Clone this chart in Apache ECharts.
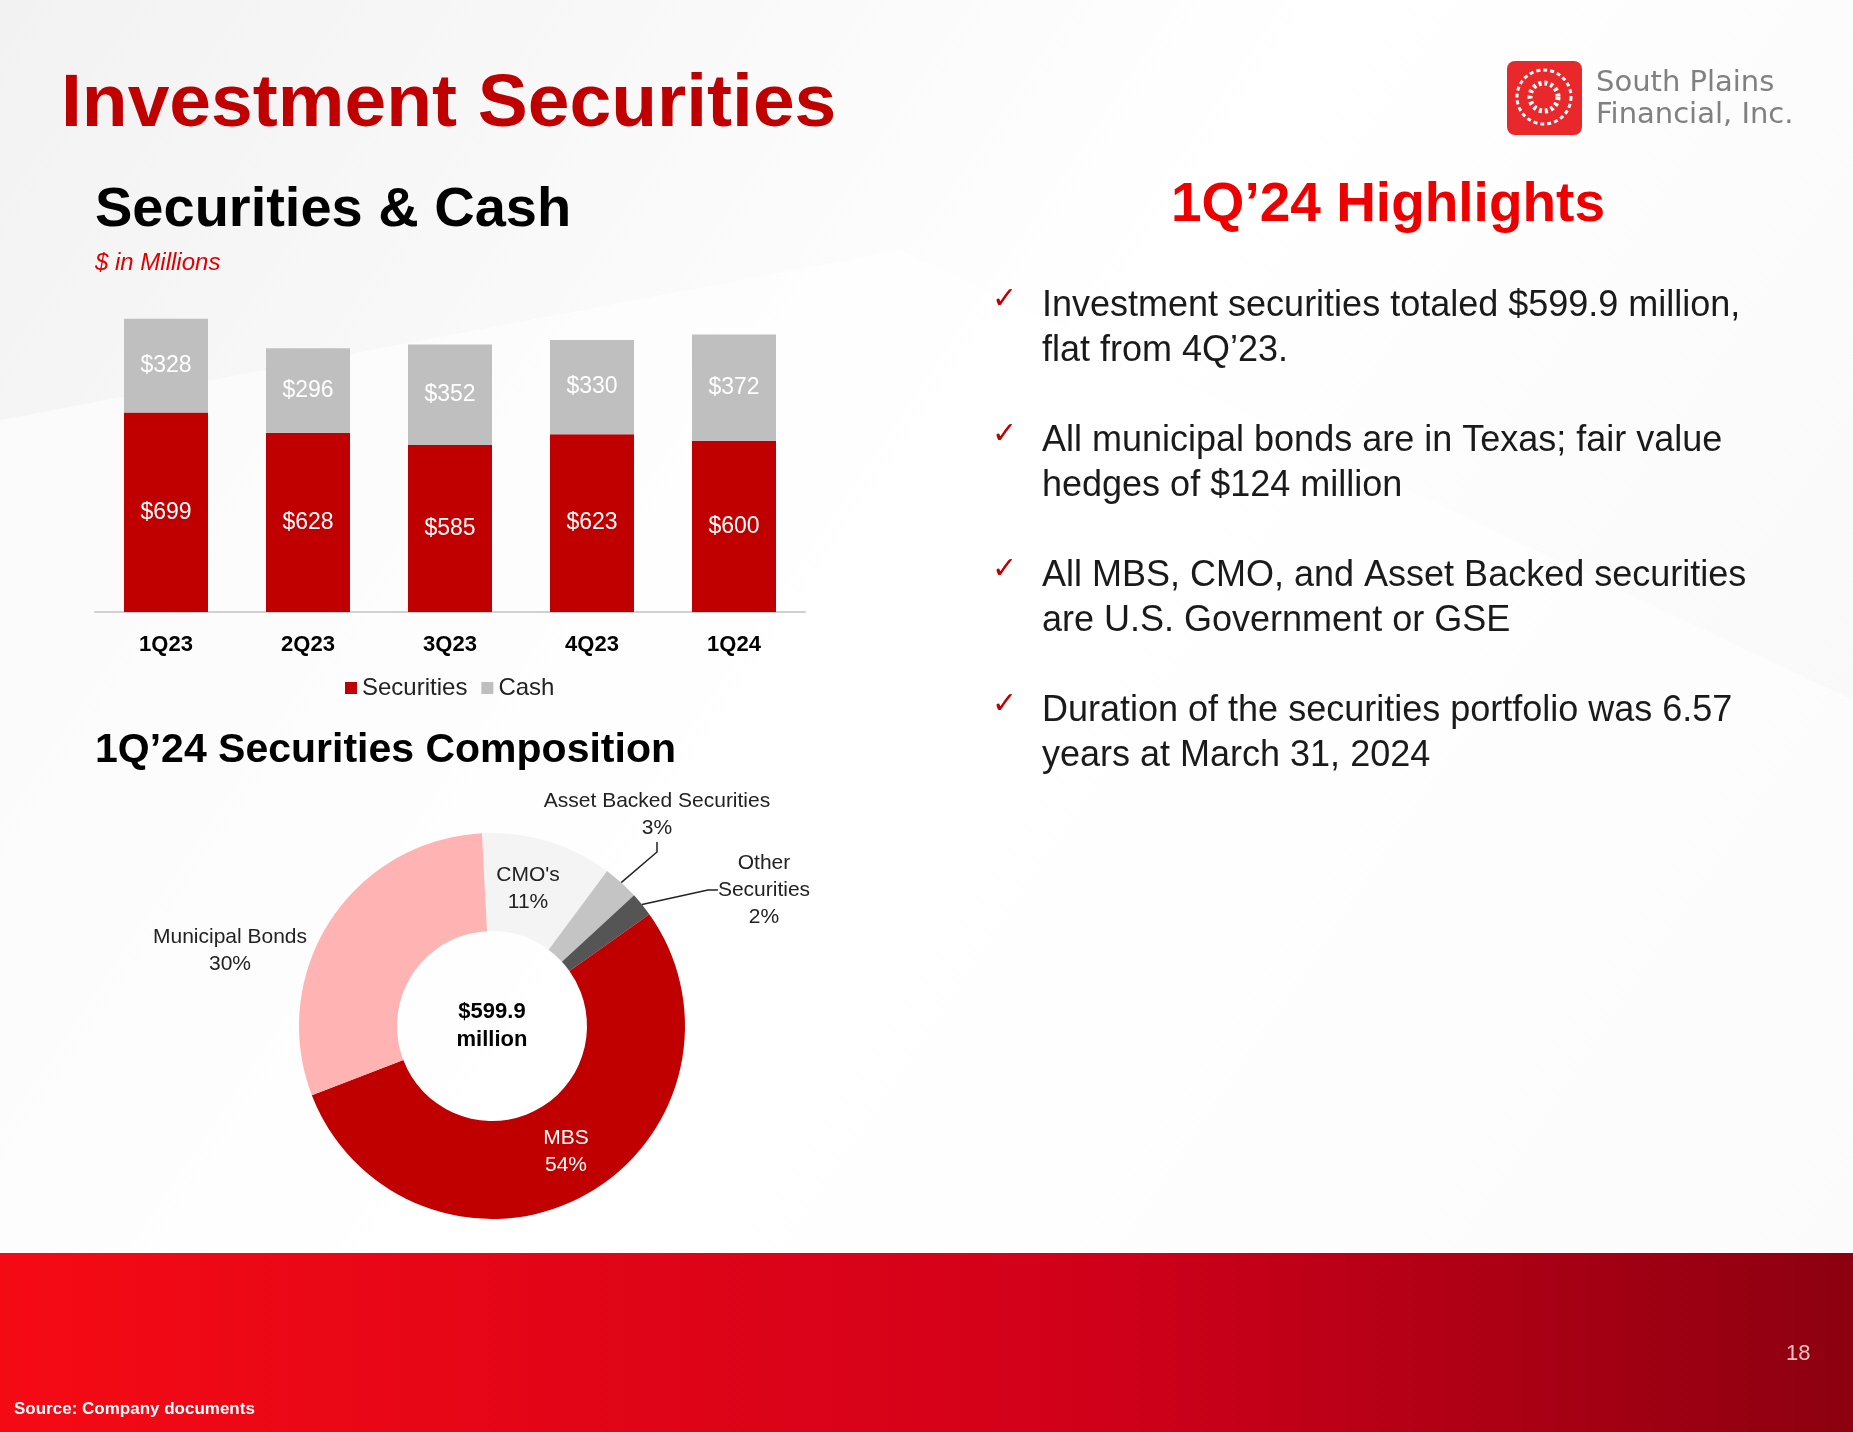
<!DOCTYPE html>
<html>
<head>
<meta charset="utf-8">
<script src="https://cdn.jsdelivr.net/npm/echarts@6/dist/echarts.min.js"></script>
<style>
html,body{margin:0;padding:0;width:1853px;height:1432px;overflow:hidden}
#chart{width:1853px;height:1432px}
</style>
</head>
<body>
<div id="chart"></div>
<script>
var quarters = ['1Q23', '2Q23', '3Q23', '4Q23', '1Q24']
var securities = [699, 628, 585, 623, 600]
var cash = [328, 296, 352, 330, 372]
var compNames = ["CMO's", 'Asset Backed Securities', 'Other\nSecurities', 'MBS', 'Municipal Bonds']
var compValues = [11, 3, 2, 54, 30]
var compColors = ['#f4f4f4', '#c4c4c4', '#555555', '#c00000', '#ffb3b3']
var compLabelPos = [[528, 889], [657, 815], [764, 890], [566, 1152], [230, 951]]
var bullets = [
    ['Investment securities totaled $599.9 million,', 'flat from 4Q\u201923.'],
    ['All municipal bonds are in Texas; fair value', 'hedges of $124 million'],
    ['All MBS, CMO, and Asset Backed securities', 'are U.S. Government or GSE'],
    ['Duration of the securities portfolio was 6.57', 'years at March 31, 2024']
]

var font = 'Liberation Sans, Arial, sans-serif'
var myChart = echarts.init(document.getElementById('chart'))

var graphics = [
    // background
    {type:'rect', z:-10, shape:{x:0,y:0,width:1853,height:1253},
        style:{fill:new echarts.graphic.LinearGradient(0,0,1,1,[{offset:0,color:'#f2f2f2'},{offset:0.5,color:'#ffffff'},{offset:1,color:'#f7f7f7'}])}},
    {type:'polygon', z:-9, shape:{points:[[0,420],[900,250],[1853,700],[1853,1253],[0,1253]]}, style:{fill:'rgba(255,255,255,0.55)'}},
    // bottom band
    {type:'rect', shape:{x:0,y:1253,width:1853,height:179},
        style:{fill:new echarts.graphic.LinearGradient(0,0,1,0,[{offset:0,color:'#f50a14'},{offset:0.6,color:'#d0001a'},{offset:1,color:'#8c0010'}])}},
    {type:'text', left:14, top:1401, style:{text:'Source: Company documents', fill:'#fff', font:'bold 17px '+font}},
    {type:'text', left:1786, top:1343, style:{text:'18', fill:'#f0c0c0', font:'22px '+font}},
    // titles
    {type:'text', left:61, top:68, style:{text:'Investment Securities', fill:'#c00000', font:'bold 75px '+font}},
    {type:'text', left:95, top:183, style:{text:'Securities & Cash', fill:'#000', font:'bold 56px '+font}},
    {type:'text', left:95, top:251, style:{text:'$ in Millions', fill:'#e00000', font:'italic 24px '+font}},
    {type:'text', left:95, top:730, style:{text:'1Q\u201924 Securities Composition', fill:'#000', font:'bold 41px '+font}},
    {type:'text', x:1388, y:206, style:{text:'1Q\u201924 Highlights', fill:'#ee0000', font:'bold 55px '+font, align:'center', verticalAlign:'middle'}},
    {type:'text', x:492, y:1026, z:10, style:{text:'$599.9\nmillion', fill:'#000', font:'bold 22px '+font, align:'center', verticalAlign:'middle', lineHeight:28}},
    // logo
    {type:'rect', shape:{x:1507,y:61,width:75,height:74,r:8}, style:{fill:'#e8282a'}},
    {type:'circle', shape:{cx:1544,cy:97,r:27}, style:{fill:'none', stroke:'#fff', lineWidth:3, lineDash:[4,3]}},
    {type:'circle', shape:{cx:1544,cy:97,r:14}, style:{fill:'none', stroke:'#fff', lineWidth:5, lineDash:[3,3]}},
    {type:'text', left:1596, top:67, style:{text:'South Plains\nFinancial, Inc.', fill:'#808080', font:'29px DejaVu Sans, sans-serif', lineHeight:32}}
]
for (var i = 0; i < bullets.length; i++) {
    var y = 285 + i * 135
    graphics.push({type:'text', left:992, top:y, style:{text:'\u2713', fill:'#c00000', font:'30px DejaVu Sans, sans-serif'}})
    graphics.push({type:'text', left:1042, top:y - 1, style:{text:bullets[i].join('\n'), fill:'#1a1a1a', font:'36px '+font, lineHeight:45}})
}

var option = {
    animation:false,
    textStyle:{fontFamily:font},
    legend:{
        top:671, left:340,
        itemWidth:12, itemHeight:12, itemGap:14,
        textStyle:{fontSize:24, color:'#222'},
        data:[{name:'Securities',icon:'rect'},{name:'Cash',icon:'rect'}]
    },
    grid:{left:95, top:298, width:710, height:314},
    xAxis:{
        type:'category', data:quarters,
        axisTick:{show:false},
        axisLine:{lineStyle:{color:'#d0d0d0', width:2}},
        axisLabel:{fontSize:22, fontWeight:'bold', color:'#000', margin:22}
    },
    yAxis:{type:'value', min:0, max:1100, show:false, splitLine:{show:false}},
    series:[
        {name:'Securities', type:'bar', stack:'a', barWidth:84, data:securities,
            itemStyle:{color:'#c00000'},
            label:{show:true, position:'inside', formatter:'${c}', color:'#fff', fontSize:23}},
        {name:'Cash', type:'bar', stack:'a', data:cash,
            itemStyle:{color:'#bfbfbf'},
            label:{show:true, position:'inside', formatter:'${c}', color:'#fff', fontSize:23}},
        {type:'pie', center:[492,1026], radius:[95,193], startAngle:93, clockwise:true,
            data:compNames.map(function (n, k) {
                return {name:n, value:compValues[k], itemStyle:{color:compColors[k]},
                    label:{color:k === 3 ? '#fff' : '#222'},
                    labelLine:{show:k === 1 || k === 2}}
            }),
            label:{show:true, position:'outside', formatter:'{b}\n{c}%', fontSize:21, lineHeight:27, align:'center'},
            labelLine:{lineStyle:{color:'#222', width:1.5}, length:10, length2:10},
            labelLayout:function (p) {
                var pos = compLabelPos[p.dataIndex]
                return {x:pos[0], y:pos[1], align:'center', verticalAlign:'middle'}
            }
        }
    ],
    graphic:graphics
}
myChart.setOption(option)
</script>
</body>
</html>
